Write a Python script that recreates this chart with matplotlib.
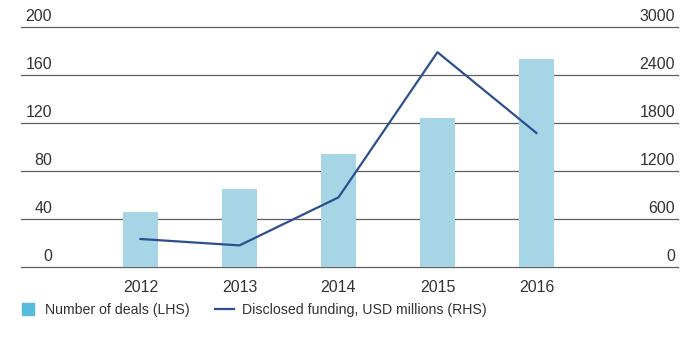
import matplotlib
matplotlib.use("Agg")
import matplotlib.pyplot as plt
import matplotlib.transforms as mtransforms
from matplotlib.lines import Line2D

years = ["2012", "2013", "2014", "2015", "2016"]
deals = [46, 65, 94, 124, 173]            # left axis
funding = [350, 270, 870, 2685, 1675]     # right axis, USD millions

left_ticks = [0, 40, 80, 120, 160, 200]
right_ticks = [0, 600, 1200, 1800, 2400, 3000]

bar_color = "#a6d5e6"
legend_bar_color = "#55bcd9"
line_color = "#2d4f8e"
grid_color = "#5f5f5f"
text_color = "#333333"

plt.rcParams["font.family"] = ["Liberation Sans", "DejaVu Sans"]

fig = plt.figure(figsize=(6.96, 3.37), dpi=100)
ax = fig.add_axes([21 / 696, 70 / 337, 657 / 696, 240 / 337])
ax2 = ax.twinx()

x = list(range(len(years)))
ax.bar(x, deals, width=0.354, color=bar_color, zorder=2)
ax2.plot(x, funding, color=line_color, lw=1.6, zorder=3)

ax.set_xlim(-1.207, 5.43)
ax.set_ylim(0, 200)
ax2.set_ylim(0, 3000)

ax.set_yticks(left_ticks)
ax2.set_yticks(right_ticks)
for t in left_ticks:
    ax.axhline(t, color=grid_color, lw=0.9, zorder=1, clip_on=False)

for a in (ax, ax2):
    for s in a.spines.values():
        s.set_visible(False)

ax.set_xticks(x)
ax.set_xticklabels(years)
ax.tick_params(axis="x", length=0, pad=9, labelsize=11.5, labelcolor=text_color)

# y labels sit above their gridline, inside the plot
up = mtransforms.ScaledTranslation(0, 4 / 72, fig.dpi_scale_trans)
ax.tick_params(axis="y", length=0, pad=-22.5, labelsize=11.5, labelcolor=text_color)
for lab in ax.get_yticklabels():
    lab.set_verticalalignment("baseline")
    lab.set_horizontalalignment("right")
    lab.set_transform(lab.get_transform() + up)
ax2.tick_params(axis="y", length=0, pad=-2.2, labelsize=11.5, labelcolor=text_color)
for lab in ax2.get_yticklabels():
    lab.set_verticalalignment("baseline")
    lab.set_horizontalalignment("right")
    lab.set_transform(lab.get_transform() + up)

ax.set_zorder(ax2.get_zorder() - 1)
ax2.patch.set_visible(False)

handles = [
    Line2D([], [], marker="s", ls="none", markersize=8, color=legend_bar_color),
    Line2D([], [], color=line_color, lw=1.6),
]
labels = ["Number of deals (LHS)", "Disclosed funding, USD millions (RHS)"]
leg = fig.legend(handles, labels, loc="center left", bbox_to_anchor=(0.008, 0.08),
                 ncol=2, frameon=False, fontsize=10.2, handlelength=1.3,
                 handletextpad=0.6, columnspacing=1.8)
for t in leg.get_texts():
    t.set_color(text_color)

plt.savefig("out.png", dpi=100)
